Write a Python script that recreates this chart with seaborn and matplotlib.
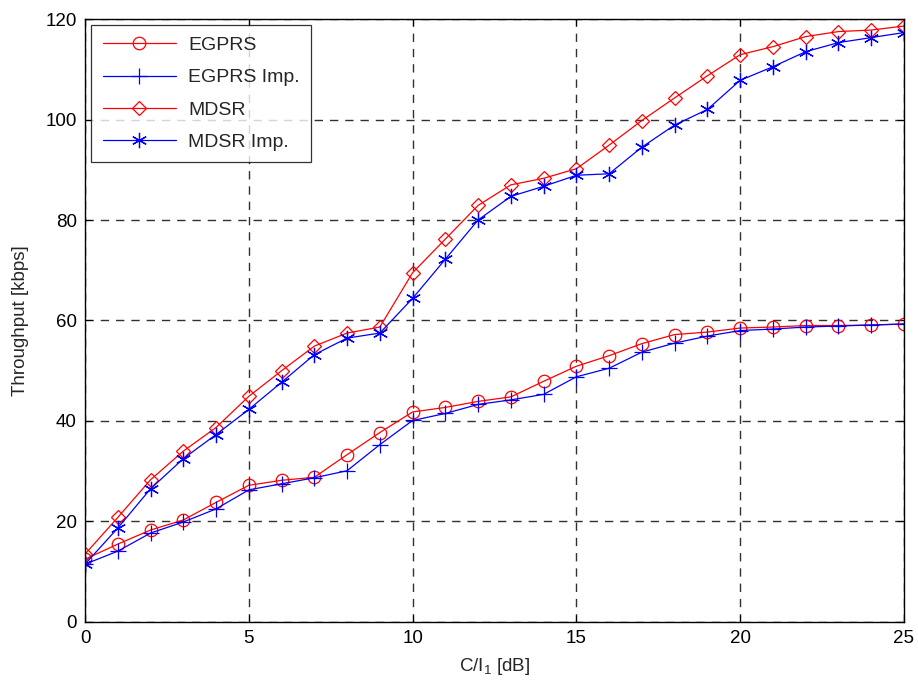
import numpy as np
import pandas as pd
import matplotlib
matplotlib.use("Agg")
import matplotlib.pyplot as plt
import seaborn as sns

ci_db = list(range(0, 26))
egprs = [12.5, 15.5, 18.3, 20.3, 23.8, 27.2, 28.2, 28.8, 33.3, 37.7, 41.8, 42.7, 43.9, 44.8, 47.9, 50.9,
         53.0, 55.4, 57.2, 57.7, 58.5, 58.7, 59.0, 59.0, 59.1, 59.3]
egprs_imp = [11.5, 14.1, 17.7, 19.9, 22.5, 26.3, 27.5, 28.7, 30.1, 35.3, 40.1, 41.5, 43.3, 44.2, 45.3, 48.8,
             50.5, 53.7, 55.5, 56.9, 58.0, 58.3, 58.7, 58.9, 59.1, 59.3]
mdsr = [13.5, 20.8, 28.3, 34.0, 38.7, 44.9, 50.0, 54.9, 57.5, 58.7, 69.5, 76.2, 82.9, 87.0, 88.3, 90.2,
        94.9, 99.8, 104.3, 108.7, 112.9, 114.5, 116.5, 117.5, 117.8, 118.6]
mdsr_imp = [11.5, 18.7, 26.5, 32.5, 37.3, 42.3, 47.7, 53.2, 56.5, 57.5, 64.4, 72.2, 80.0, 84.7, 86.7, 88.9,
            89.2, 94.5, 98.9, 102.0, 107.8, 110.5, 113.5, 115.3, 116.3, 117.3]

series_names = ["EGPRS", "EGPRS Imp.", "MDSR", "MDSR Imp."]
series_vals = [egprs, egprs_imp, mdsr, mdsr_imp]
colors = ["#ff0000", "#0000ff", "#ff0000", "#0000ff"]
markers = ["o", "+", "D", (6, 2, 0)]
msizes = [9, 11, 7.5, 11]

sns.set_style("white")
plt.rcParams["font.family"] = ["Liberation Sans", "DejaVu Sans"]
plt.rcParams["mathtext.default"] = "regular"

fig = plt.figure(figsize=(9.18, 6.86), dpi=100)
ax = fig.add_axes([0.0926, 0.0933, 0.8921, 0.879])

for name, vals, c, m, ms in zip(series_names, series_vals, colors, markers, msizes):
    df = pd.DataFrame({"x": ci_db, "y": vals})
    if m in ("o", "D"):
        kw = dict(markerfacecolor="none", markeredgecolor=c, markeredgewidth=0.9)
    else:
        kw = dict(markeredgecolor=c, markerfacecolor=c, markeredgewidth=0.9)
    sns.lineplot(data=df, x="x", y="y", ax=ax, color=c, linewidth=0.9, marker=m,
                 markersize=ms, label=name, **kw)

ax.set_xlim(0, 25)
ax.set_ylim(0, 120)
ax.set_xticks([0, 5, 10, 15, 20, 25])
ax.set_yticks([0, 20, 40, 60, 80, 100, 120])
ax.grid(True, color="#1a1a1a", linestyle=(0, (6, 5)), linewidth=1.0, alpha=0.9)
for s in ax.spines.values():
    s.set_color("black")
    s.set_linewidth(1.0)
ax.tick_params(direction="in", length=5, width=0.8, labelsize=13.5, colors="black", pad=6,
               top=True, right=True, bottom=True, left=True)
ax.set_xlabel("C/I$_1$ [dB]", fontsize=13.5, labelpad=6)
ax.set_ylabel("Throughput [kbps]", fontsize=13.5, labelpad=12)

leg = ax.legend(loc="upper left", fontsize=14, frameon=True, fancybox=False, edgecolor="black",
                borderaxespad=0.3, handlelength=3.8, labelspacing=0.75, borderpad=0.6,
                handletextpad=0.6)
leg.get_frame().set_linewidth(0.9)

fig.savefig("out.png", dpi=100)
